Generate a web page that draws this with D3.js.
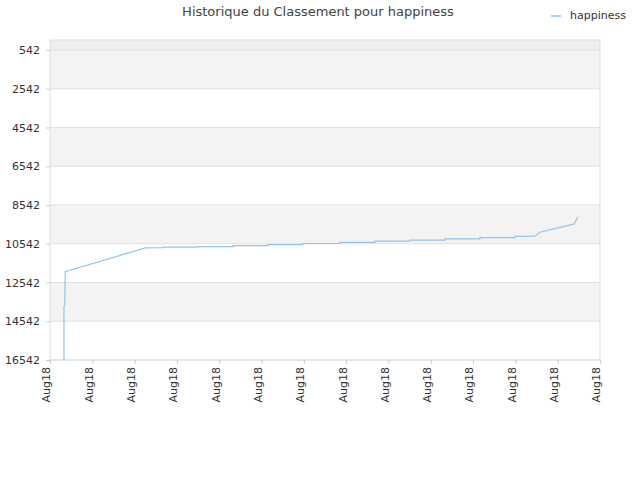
<!DOCTYPE html><html><head><meta charset="utf-8">
<script src="https://cdn.jsdelivr.net/npm/d3@7"></script>
<style>body{margin:0;background:#fff}text{font-family:"DejaVu Sans",sans-serif}</style></head><body>
<script>
const title="Historique du Classement pour happiness";
const seriesName="happiness";
const xTickLabels=["Aug18","Aug18","Aug18","Aug18","Aug18","Aug18","Aug18","Aug18","Aug18","Aug18","Aug18","Aug18","Aug18","Aug18"];
const yTicks=[542,2542,4542,6542,8542,10542,12542,14542,16542];
const xs=[0.33,0.33,0.35,0.36,2.25,2.67,2.67,3.50,3.50,4.33,4.33,5.15,5.15,5.98,5.98,6.85,6.85,7.68,7.68,8.51,8.51,9.34,9.34,10.16,10.16,10.99,10.99,11.46,11.58,12.38,12.48];
const ranks=[16542,13800,13700,11980,10760,10750,10720,10720,10690,10690,10640,10640,10590,10590,10530,10530,10470,10470,10410,10410,10350,10350,10290,10290,10230,10230,10160,10150,9950,9530,9170];

const W=640,H=480,L=50,R=600,T=40,B=360;
const svg=d3.select("body").append("svg").attr("width",W).attr("height",H);
const x=d3.scaleLinear().domain([0,13]).range([L,R]);
const y=d3.scaleLinear().domain([26,16542]).range([T,B]);
svg.append("rect").attr("x",L).attr("y",T).attr("width",R-L).attr("height",y(542)-T).attr("fill","#eeeeee");
for(let i=0;i<yTicks.length-1;i++){
  svg.append("rect").attr("x",L).attr("y",y(yTicks[i])).attr("width",R-L).attr("height",y(yTicks[i+1])-y(yTicks[i])).attr("fill",i%2==0?"#f3f3f3":"#fff");
}
yTicks.forEach(v=>svg.append("line").attr("x1",L).attr("x2",R).attr("y1",y(v)).attr("y2",y(v)).attr("stroke","#e0e0e0"));
svg.append("rect").attr("x",L).attr("y",T).attr("width",R-L).attr("height",B-T).attr("fill","none").attr("stroke","#ddd");
const ya=svg.append("g").attr("transform",`translate(${L},0)`).call(d3.axisLeft(y).tickValues(yTicks).tickFormat(d3.format("d")).tickSize(4).tickPadding(6));
ya.select(".domain").remove();
ya.selectAll("line").attr("stroke","#ccc");
ya.selectAll("text").attr("fill","#333").style("font-size","11px");
const xa=svg.append("g").attr("transform",`translate(0,${B})`).call(d3.axisBottom(x).tickValues(d3.range(14)).tickFormat(i=>xTickLabels[i]).tickSize(4));
xa.select(".domain").remove();
xa.selectAll("line").attr("stroke","#ccc");
xa.selectAll("text").attr("fill","#333").style("font-size","11px").attr("transform","rotate(-90)").attr("text-anchor","end").attr("x",-7).attr("y",-4).attr("dy","0.35em");
const pts=xs.map((d,i)=>[d,ranks[i]]);
svg.append("path").datum(pts).attr("fill","none").attr("stroke","#90c4f0").attr("stroke-width",1.2)
  .attr("d",d3.line().x(d=>x(d[0])).y(d=>y(d[1])));
svg.append("text").attr("x",318).attr("y",16).attr("text-anchor","middle").attr("fill","#444").style("font-size","13px").text(title);
svg.append("line").attr("x1",551).attr("x2",561).attr("y1",16).attr("y2",16).attr("stroke","#90c4f0").attr("stroke-width",1.5);
svg.append("text").attr("x",570).attr("y",19).attr("fill","#333").style("font-size","11px").text(seriesName);
</script></body></html>
